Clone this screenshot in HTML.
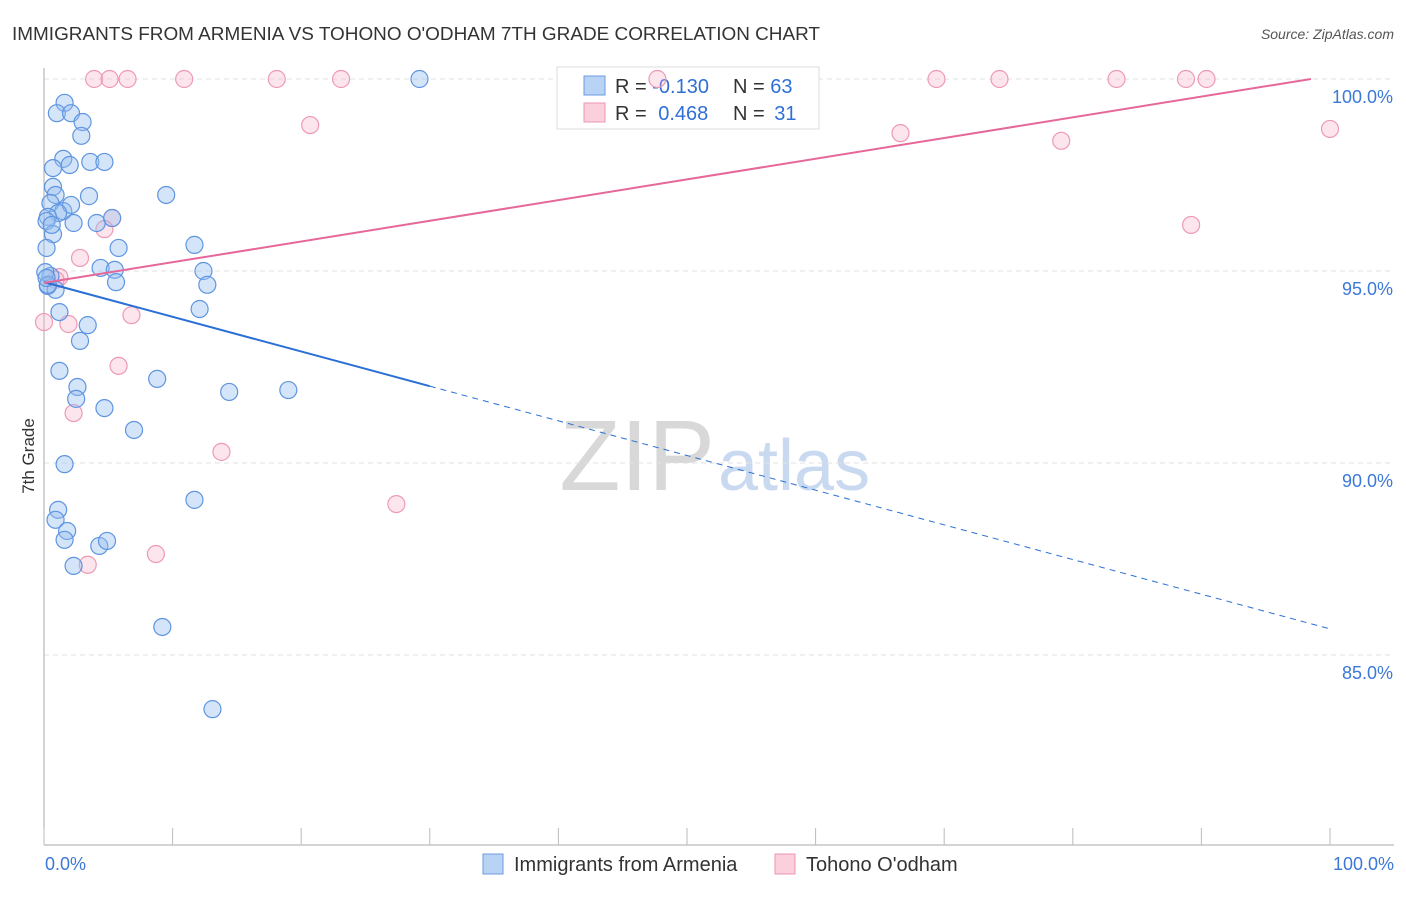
<!DOCTYPE html>
<html><head><meta charset="utf-8"><style>
body{margin:0;background:#fff;font-family:"Liberation Sans",sans-serif;}
svg text{font-family:"Liberation Sans",sans-serif;}
</style></head><body>
<svg id="chart" width="1406" height="892" xmlns="http://www.w3.org/2000/svg">
<text x="12" y="40" font-size="18" fill="#333" textLength="808" lengthAdjust="spacingAndGlyphs">IMMIGRANTS FROM ARMENIA VS TOHONO O'ODHAM 7TH GRADE CORRELATION CHART</text>
<text x="1394" y="39" font-size="14" fill="#555" text-anchor="end" font-style="italic">Source: ZipAtlas.com</text>
<text x="715" y="490" font-size="100" fill="#d8d8d8" text-anchor="end" font-family="Liberation Serif">ZIP</text>
<text x="718" y="490" font-size="72" fill="#c9daf0">atlas</text>
<text transform="translate(34,456) rotate(-90)" font-size="17" fill="#333" text-anchor="middle">7th Grade</text>
<g id="grid"></g><g id="axes"></g>
<g>
<rect x="557" y="67" width="262" height="62" fill="#fff" stroke="#ddd"/>
<rect x="584" y="76" width="21" height="19" fill="#b9d3f5" stroke="#6a9be0"/>
<rect x="584" y="103" width="21" height="19" fill="#fbcfdc" stroke="#ec94b0"/>
<text x="615" y="93" font-size="20" fill="#333">R = <tspan fill="#2f6fd6">-0.130</tspan></text>
<text x="733" y="93" font-size="20" fill="#333">N = <tspan fill="#2f6fd6">63</tspan></text>
<text x="615" y="120" font-size="20" fill="#333">R = <tspan fill="#2f6fd6" dx="6">0.468</tspan></text>
<text x="733" y="120" font-size="20" fill="#333">N = <tspan fill="#2f6fd6" dx="4">31</tspan></text>
</g>
<g id="pts"></g><g id="trends"></g>
<g>
<rect x="483" y="854" width="20" height="20" fill="#b9d3f5" stroke="#6a9be0"/>
<text x="514" y="871" font-size="20" fill="#333">Immigrants from Armenia</text>
<rect x="775" y="854" width="20" height="20" fill="#fbcfdc" stroke="#ec94b0"/>
<text x="806" y="871" font-size="20" fill="#333">Tohono O'odham</text>
</g>
</svg>
<script>
const yTicks=[100,95,90,85];
const xTickLabels=["0.0%","100.0%"];
const blueX=[1.6,1.0,2.1,3.0,2.9,1.5,2.0,3.6,4.7,0.7,0.7,0.9,3.5,9.5,0.5,1.5,2.1,1.1,0.3,0.2,2.3,4.1,5.3,0.7,0.2,5.8,11.7,4.4,5.5,12.4,5.6,12.7,0.5,0.3,0.9,12.1,1.2,3.4,2.8,1.2,8.8,2.6,2.5,14.4,19.0,4.7,7.0,1.6,1.1,0.9,1.8,1.6,4.3,4.9,2.3,11.7,9.2,13.1,29.2,0.1,0.3,0.2,0.6];
const blueY=[99.38,99.11,99.11,98.88,98.52,97.92,97.76,97.84,97.84,97.68,97.19,96.98,96.95,96.98,96.77,96.56,96.72,96.51,96.41,96.30,96.25,96.25,96.38,95.96,95.60,95.60,95.68,95.08,95.03,95.00,94.71,94.64,94.87,94.61,94.51,94.01,93.93,93.59,93.18,92.40,92.19,91.98,91.67,91.85,91.90,91.43,90.86,89.97,88.78,88.52,88.23,88.00,87.84,87.97,87.32,89.04,85.73,83.59,100,94.97,94.64,94.82,96.20];
const pinkX=[3.9,5.1,6.5,10.9,18.1,23.1,47.7,69.4,74.3,83.4,88.8,90.4,20.7,66.6,79.1,100,89.2,5.3,4.7,2.8,1.2,0.9,0,1.9,6.8,5.8,2.3,13.8,27.4,8.7,3.4];
const pinkY=[100,100,100,100,100,100,100,100,100,100,100,100,98.80,98.59,98.39,98.70,96.20,96.38,96.09,95.34,94.84,94.77,93.67,93.62,93.85,92.53,91.30,90.29,88.93,87.63,87.35];
const blueTrend=[94.71,85.68], blueSolidEnd=30;
const pinkTrend=[94.69,100.08];
const NS="http://www.w3.org/2000/svg";
const X0=44,X1=1330,Y100=79,PPY=38.4,YB=845;
const sx=v=>X0+(X1-X0)*v/100, sy=v=>Y100+(100-v)*PPY;
function mk(t,a,p){const e=document.createElementNS(NS,t);for(const k in a)e.setAttribute(k,a[k]);p.appendChild(e);return e;}
const grid=document.getElementById('grid'),axes=document.getElementById('axes');
yTicks.forEach(t=>{
 const l=mk('line',{x1:X0,x2:1394,y1:sy(t),y2:sy(t),stroke:'#e2e2e2','stroke-dasharray':'5,4'},grid);
 
 
 const tx=mk('text',{x:1393,y:sy(t)+24,'font-size':18,fill:'#3b78d8','text-anchor':'end'},axes);
 tx.textContent=t.toFixed(1)+'%';
 
 
});
mk('line',{x1:X0,x2:X0,y1:68,y2:YB,stroke:'#aaa'},axes);
mk('line',{x1:X0,x2:1394,y1:YB,y2:YB,stroke:'#aaa'},axes);
for(let i=0;i<=10;i++){mk('line',{x1:sx(i*10),x2:sx(i*10),y1:YB,y2:828,stroke:'#bbb'},axes);}
const xl0=mk('text',{x:45,y:870,'font-size':18,fill:'#3b78d8'},axes);xl0.textContent=xTickLabels[0];


const xl1=mk('text',{x:1394,y:870,'font-size':18,fill:'#3b78d8','text-anchor':'end'},axes);xl1.textContent=xTickLabels[1];


const pts=document.getElementById('pts');
pinkX.forEach((x,i)=>{const c=mk('circle',{cx:sx(x),cy:sy(pinkY[i]),r:8.5,fill:'rgba(247,180,200,0.35)',stroke:'#ee9ab4','stroke-width':1.2},pts);
 
 });
blueX.forEach((x,i)=>{const c=mk('circle',{cx:sx(x),cy:sy(blueY[i]),r:8.5,fill:'rgba(150,190,240,0.4)',stroke:'#5f95e0','stroke-width':1.2},pts);
 
 });
const tr=document.getElementById('trends');
const by=x=>blueTrend[0]+(blueTrend[1]-blueTrend[0])*x/100;
const bl=mk('line',{x1:sx(0),y1:sy(by(0)),x2:sx(blueSolidEnd),y2:sy(by(blueSolidEnd)),stroke:'#2a6fd6','stroke-width':2},tr);


const bd=mk('line',{x1:sx(blueSolidEnd),y1:sy(by(blueSolidEnd)),x2:sx(100),y2:sy(by(100)),stroke:'#2a6fd6','stroke-width':1,'stroke-dasharray':'6,5'},tr);


const slope=pinkTrend[1]-pinkTrend[0];const xe=Math.min(100,(100-pinkTrend[0])/slope*100);
const pl=mk('line',{x1:sx(0),y1:sy(pinkTrend[0]),x2:sx(xe),y2:sy(pinkTrend[0]+slope*xe/100),stroke:'#e6679a','stroke-width':2},tr);


</script>
</body></html>
